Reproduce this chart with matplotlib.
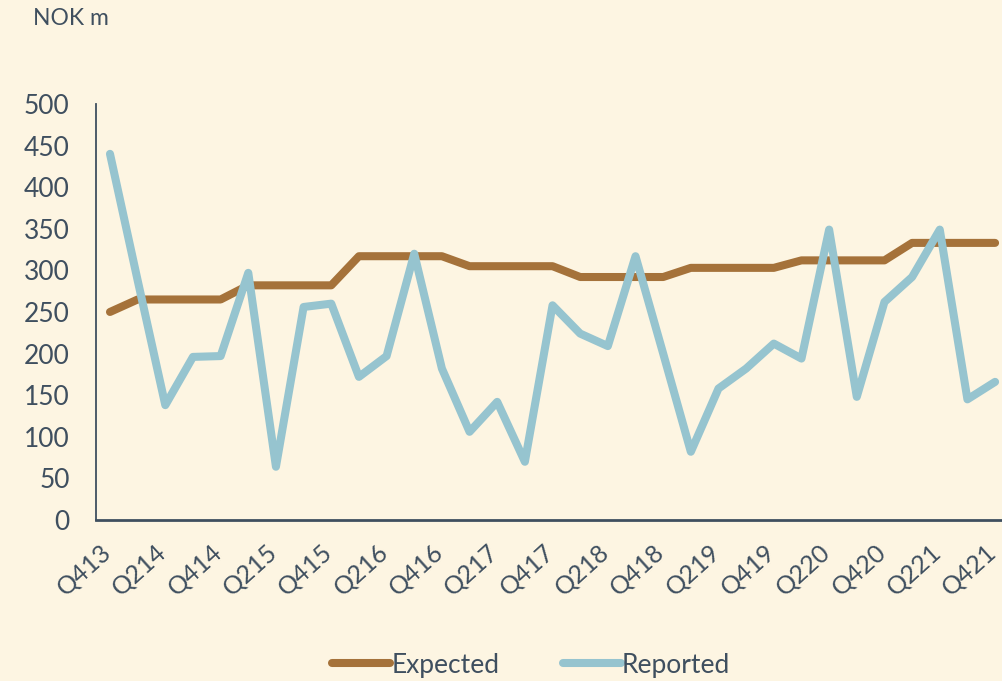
import matplotlib
matplotlib.use("Agg")
import matplotlib.pyplot as plt
from matplotlib.transforms import ScaledTranslation

# quarters Q4 2013 .. Q4 2021
quarters = [f"Q{q}{y:02d}" for y in range(13, 22) for q in range(1, 5)][3:]

expected = [250, 265, 265, 265, 265, 282, 282, 282, 282, 317, 317, 317, 317,
            305, 305, 305, 305, 292, 292, 292, 292, 303, 303, 303, 303,
            312, 312, 312, 312, 333, 333, 333, 333]
reported = [440, 288, 138, 196, 197, 297, 64, 256, 260, 172, 197, 320, 182,
            106, 142, 70, 258, 224, 209, 317, 200, 82, 158, 182, 212, 194,
            349, 148, 262, 292, 349, 145, 166]

bg = "#FDF5E2"
txt = "#3F4F5F"
plt.rcParams['font.family'] = ['Lato', 'DejaVu Sans']

fig = plt.figure(figsize=(10.02, 6.81), dpi=100, facecolor=bg)
ax = fig.add_axes([0.0958, 0.2364, 0.9042, 0.611])
ax.set_facecolor(bg)

x = list(range(len(quarters)))
ax.plot(x, expected, color="#A5723A", lw=5.8, solid_capstyle="round",
        solid_joinstyle="round", label="Expected")
ax.plot(x, reported, color="#96C4CF", lw=5.8, solid_capstyle="round",
        solid_joinstyle="round", label="Reported")

ax.set_ylim(0, 500)
ax.set_yticks(range(0, 501, 50))
ax.set_xlim(-0.506, 32.25)
ax.set_xticks(x[::2])
ax.set_xticklabels(quarters[::2], rotation=42, ha="right", va="top",
                   rotation_mode="anchor")
ax.tick_params(axis="both", length=0, colors=txt, labelsize=19)
ax.tick_params(axis="y", pad=19)
ax.tick_params(axis="x", labelsize=18, pad=14)
# nudge the rotated labels a bit left so the last one fits
shift = ScaledTranslation(-10 / 100, 0, fig.dpi_scale_trans)
for lab in ax.get_xticklabels():
    lab.set_transform(lab.get_transform() + shift)

for s in ["top", "right"]:
    ax.spines[s].set_visible(False)
ax.spines["left"].set_color(txt)
ax.spines["left"].set_linewidth(1.3)
ax.spines["bottom"].set_color(txt)
ax.spines["bottom"].set_linewidth(2)

fig.text(0.033, 0.988, "NOK m", color=txt, fontsize=16.5, va="top", ha="left")

leg = fig.legend(loc="lower center", bbox_to_anchor=(0.53, -0.03), ncol=2,
                 frameon=False, fontsize=19, handlelength=2.2,
                 handletextpad=0.05, columnspacing=2.4)
for t in leg.get_texts():
    t.set_color(txt)

fig.savefig("out.png", dpi=100, facecolor=bg)
